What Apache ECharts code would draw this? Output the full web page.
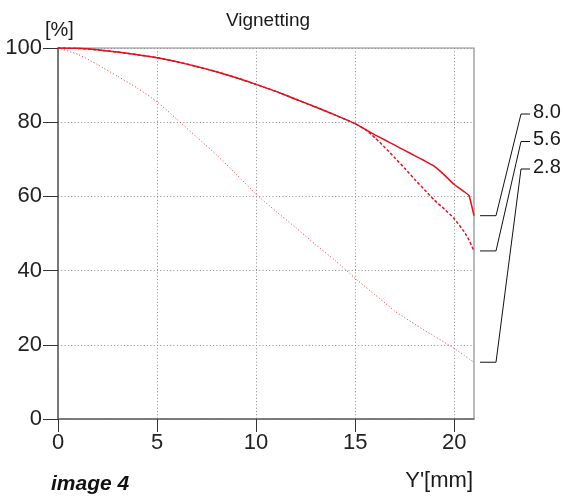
<!DOCTYPE html>
<html>
<head>
<meta charset="utf-8">
<script src="https://cdn.jsdelivr.net/npm/echarts@6/dist/echarts.min.js"></script>
<style>
  html, body { margin: 0; padding: 0; background: #fff; }
  #chart { width: 565px; height: 499px; }
</style>
</head>
<body>
<div id="chart"></div>
<script>
// Image height Y' in mm
const imageHeight = [0, 1, 2, 3, 4, 5, 6, 7, 8, 9, 10, 11, 12, 13, 14, 15, 15.5, 16, 16.5, 17, 17.5, 18, 18.5, 19, 19.5, 20, 20.5, 20.75, 21];

// Relative illumination [%] per aperture
const apertureLabels = ['8.0', '5.6', '2.8'];
const vignetting80 = [100, 99.9, 99.5, 98.9, 98.2, 97.4, 96.3, 95.0, 93.6, 92.0, 90.2, 88.3, 86.2, 84.1, 81.9, 79.6, 78.1, 76.6, 75.2, 73.8, 72.4, 71.0, 69.6, 68.1, 65.8, 63.2, 61.3, 60.2, 54.8];
const vignetting56 = [100, 99.9, 99.5, 98.9, 98.2, 97.4, 96.3, 95.0, 93.6, 92.0, 90.2, 88.3, 86.2, 84.1, 81.9, 79.6, 78.1, 75.8, 73.2, 70.4, 67.6, 64.6, 61.8, 59.0, 56.6, 54.0, 50.5, 48.2, 45.3];
const vignetting28 = [100, 98.3, 95.5, 92.4, 89.2, 85.5, 80.8, 76.0, 71.2, 66.0, 60.6, 56.0, 51.6, 47.0, 42.7, 37.9, 35.7, 33.5, 31.3, 29.1, 27.3, 25.6, 23.9, 22.3, 20.7, 19.0, 17.2, 16.2, 15.3];

// Axis ticks
const xTicks = [0, 5, 10, 15, 20];
const yTicks = [0, 20, 40, 60, 80, 100];

const RED = '#e4101e';
const AXIS = '#666666';
const GRIDC = '#8a8a8a';
const FONT = '"Liberation Sans", Arial, sans-serif';

const pairs = ys => imageHeight.map((x, i) => [x, ys[i]]);

const chart = echarts.init(document.getElementById('chart'), null, { renderer: 'canvas' });

const grid = { left: 58, right: 91, top: 48, bottom: 80 };

const option = {
  animation: false,
  backgroundColor: '#fff',
  title: {
    text: 'Vignetting',
    left: 263, top: 6, textAlign: 'center',
    textStyle: { fontFamily: FONT, fontSize: 19, fontWeight: 'normal', color: '#1a1a1a' }
  },
  grid: Object.assign({ show: true, borderColor: GRIDC, borderWidth: 1.2, containLabel: false }, grid),
  xAxis: {
    type: 'value', min: 0, max: 21, interval: 5,
    axisLine: { lineStyle: { color: AXIS, width: 1.5 } },
    axisTick: { length: 13, lineStyle: { color: '#333', width: 1 }, customValues: xTicks },
    axisLabel: { margin: 13, fontFamily: FONT, fontSize: 22, color: '#222', customValues: xTicks },
    splitLine: { show: true, lineStyle: { color: GRIDC, type: [1, 2.3], width: 1 } }
  },
  yAxis: {
    type: 'value', min: 0, max: 100, interval: 20,
    axisLine: { show: true, lineStyle: { color: AXIS, width: 1.5 } },
    axisTick: { show: true, length: 15, lineStyle: { color: '#333', width: 1 }, customValues: yTicks },
    axisLabel: { margin: 16, fontFamily: FONT, fontSize: 22, color: '#222', customValues: yTicks },
    splitLine: { show: true, lineStyle: { color: GRIDC, type: [1, 2.3], width: 1 } }
  },
  series: [
    {
      name: apertureLabels[2], type: 'line', data: pairs(vignetting28),
      symbol: 'none', z: 3, smooth: 0.2,
      lineStyle: { color: '#ee3344', width: 1, type: [1, 2.2] }
    },
    {
      name: apertureLabels[1], type: 'line', data: pairs(vignetting56),
      symbol: 'none', z: 4, smooth: 0.2,
      lineStyle: { color: RED, width: 1.5, type: [3, 2] }
    },
    {
      name: apertureLabels[0], type: 'line', data: pairs(vignetting80),
      symbol: 'none', z: 5, smooth: 0.15,
      lineStyle: { color: RED, width: 1.5 }
    }
  ]
};

chart.setOption(option);

// Leader lines from each curve end to its aperture label on the right
function drawLeaders() {
  const ends = [vignetting80, vignetting56, vignetting28];
  const xMax = imageHeight[imageHeight.length - 1];
  const elements = [];
  const labelTop = 114;   // y of first label leader
  const labelStep = 27.5; // spacing between labels
  ends.forEach((ys, i) => {
    const p = chart.convertToPixel({ gridIndex: 0 }, [xMax, ys[ys.length - 1]]);
    const x0 = p[0] + 6, x1 = p[0] + 22, x2 = p[0] + 47, x3 = p[0] + 56;
    const ly = labelTop + i * labelStep;
    elements.push({
      type: 'polyline',
      shape: { points: [[x0, p[1]], [x1, p[1]], [x2, ly], [x3, ly]] },
      style: { stroke: '#111', lineWidth: 1, fill: null },
      silent: true
    });
    elements.push({
      type: 'text',
      x: x3 + 3, y: ly - 2,
      style: {
        text: apertureLabels[i], fontFamily: FONT, fontSize: 20,
        fill: '#1a1a1a', verticalAlign: 'middle', align: 'left'
      },
      silent: true
    });
  });
  const gTop = chart.convertToPixel({ gridIndex: 0 }, [0, 100]);
  const gEnd = chart.convertToPixel({ gridIndex: 0 }, [xMax, 0]);
  elements.push({
    type: 'text', x: gTop[0] - 13, y: gTop[1] - 8,
    style: { text: '[%]', fontFamily: FONT, fontSize: 20, fill: '#1a1a1a', align: 'left', verticalAlign: 'bottom' }
  });
  elements.push({
    type: 'text', x: gEnd[0] - 1, y: gEnd[1] + 62,
    style: { text: "Y'[mm]", fontFamily: FONT, fontSize: 22, fill: '#1a1a1a', align: 'right', verticalAlign: 'middle' }
  });
  elements.push({
    type: 'text', x: 51, y: 484,
    style: { text: 'image 4', fontFamily: FONT, fontSize: 21, fontWeight: 'bold', fontStyle: 'italic', fill: '#111', align: 'left', verticalAlign: 'middle' }
  });
  chart.setOption({ graphic: { elements } });
}
drawLeaders();
</script>
</body>
</html>
